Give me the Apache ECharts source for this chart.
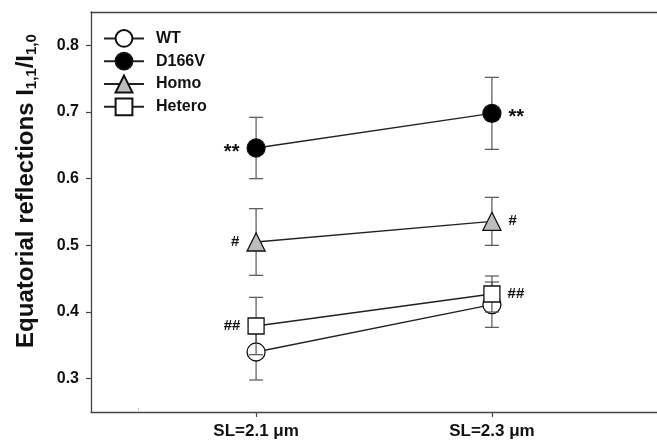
<!DOCTYPE html>
<html><head><meta charset="utf-8">
<script src="https://cdn.jsdelivr.net/npm/echarts@6/dist/echarts.min.js"></script>
<style>html,body{margin:0;padding:0;background:#fff}#c{width:657px;height:443px}</style>
</head><body><div id="c"></div>
<script>
const categories = ['SL=2.1 \u03bcm', 'SL=2.3 \u03bcm'];
const xPositions = [1, 2];
const minorXTicks = [0.5];
const seriesNames = ['WT', 'D166V', 'Homo', 'Hetero'];
const wtValues = [0.340, 0.411];
const wtErrors = [0.042, 0.034];
const d166vValues = [0.646, 0.698];
const d166vErrors = [0.046, 0.054];
const homoValues = [0.505, 0.536];
const homoErrors = [0.050, 0.036];
const heteroValues = [0.379, 0.427];
const heteroErrors = [0.043, 0.027];
const wtMarks = ['', ''];
const d166vMarks = ['**', '**'];
const homoMarks = ['#', '#'];
const heteroMarks = ['##', '##'];
const yTicks = [0.3, 0.4, 0.5, 0.6, 0.7, 0.8];

const FONT = "'Liberation Sans', Arial, Helvetica, sans-serif";
const AX = '#444';

function lineSeries(name, values, marks, symbol, size, fill, z) {
  return {
    name: name, type: 'line', z: z, symbol: symbol, symbolSize: size,
    lineStyle: { color: '#222', width: 1.4 },
    itemStyle: { color: fill, borderColor: '#111', borderWidth: 1.3 },
    emphasis: { disabled: true },
    animation: false,
    data: values.map(function (v, i) {
      const m = marks[i];
      const star = m.indexOf('*') >= 0;
      return {
        value: [xPositions[i], v],
        label: {
          show: !!m,
          position: i === 0 ? 'left' : 'right',
          distance: 7,
          offset: star ? [0, 4] : [0, 0],
          formatter: star ? '{s|' + m + '}' : '{h|' + m + '}',
          rich: {
            s: { fontSize: 20, fontWeight: 'bold', color: '#111', fontFamily: FONT },
            h: { fontSize: 15, fontWeight: 'bold', color: '#111', fontFamily: FONT }
          }
        }
      };
    })
  };
}

function errSeries(values, errs, z) {
  return {
    type: 'custom', z: z, silent: true, animation: false,
    data: values.map(function (v, i) { return [xPositions[i], v - errs[i], v + errs[i]]; }),
    encode: { x: 0, y: [1, 2] },
    renderItem: function (params, api) {
      const x = api.value(0);
      const lo = api.coord([x, api.value(1)]);
      const hi = api.coord([x, api.value(2)]);
      const w = 7;
      const style = { stroke: '#555', lineWidth: 1.2, fill: null };
      return {
        type: 'group', children: [
          { type: 'line', shape: { x1: lo[0], y1: lo[1], x2: hi[0], y2: hi[1] }, style: style },
          { type: 'line', shape: { x1: lo[0] - w, y1: lo[1], x2: lo[0] + w, y2: lo[1] }, style: style },
          { type: 'line', shape: { x1: hi[0] - w, y1: hi[1], x2: hi[0] + w, y2: hi[1] }, style: style }
        ]
      };
    }
  };
}

const chart = echarts.init(document.getElementById('c'), null, { renderer: 'canvas' });
chart.setOption({
  backgroundColor: '#fff',
  animation: false,
  grid: { left: 91, top: 12, bottom: 31, right: -58 },
  xAxis: [{
    type: 'value', min: 0.3, max: 2.7, position: 'bottom',
    axisLine: { show: true, lineStyle: { color: AX, width: 1.3 } },
    axisTick: { show: true, customValues: xPositions, length: 5, lineStyle: { color: AX, width: 1.2 } },
    axisLabel: {
      customValues: xPositions, margin: 11,
      formatter: function (v) { const k = xPositions.indexOf(v); return k >= 0 ? categories[k] : ''; },
      color: '#111', fontSize: 17, fontWeight: 'bold', fontFamily: FONT
    },
    splitLine: { show: false }
  }, {
    type: 'value', min: 0.3, max: 2.7, position: 'top',
    axisLine: { show: true, lineStyle: { color: AX, width: 1.3 } },
    axisTick: { show: false }, axisLabel: { show: false }, splitLine: { show: false }
  }, {
    type: 'value', min: 0.3, max: 2.7, position: 'bottom',
    axisLine: { show: false },
    axisTick: { show: true, inside: true, customValues: minorXTicks, length: 4, lineStyle: { color: '#ccc', width: 1 } },
    axisLabel: { show: false }, splitLine: { show: false }
  }],
  yAxis: {
    type: 'value', min: 0.25, max: 0.85,
    axisLine: { show: true, lineStyle: { color: AX, width: 1.3 } },
    axisTick: { show: true, customValues: yTicks, length: 5, lineStyle: { color: AX, width: 1.2 } },
    axisLabel: {
      customValues: yTicks, margin: 12,
      formatter: function (v) { return v.toFixed(1); },
      color: '#111', fontSize: 16, fontWeight: 'bold', fontFamily: FONT
    },
    splitLine: { show: false }
  },
  legend: {
    data: seriesNames, orient: 'vertical', left: 98, top: 24,
    itemWidth: 40, itemHeight: 21, itemGap: 4,
    selectedMode: false,
    textStyle: { color: '#111', fontSize: 16, fontWeight: 'bold', fontFamily: FONT, padding: [0, 0, 0, 7] }
  },
  graphic: [{
    type: 'text', x: 26, y: 191, rotation: Math.PI / 2,
    style: {
      text: '{m|Equatorial reflections I}{s|1,1}{m|/I}{s|1,0}',
      align: 'center', verticalAlign: 'middle',
      rich: {
        m: { fontSize: 24, fontWeight: 'bold', fontFamily: FONT, fill: '#111' },
        s: { fontSize: 15, fontWeight: 'bold', fontFamily: FONT, fill: '#111', padding: [11, 0, 0, 0] }
      }
    }
  }],
  series: [
    errSeries(wtValues, wtErrors, 2),
    lineSeries('WT', wtValues, wtMarks, 'circle', 18, '#fff', 3),
    errSeries(d166vValues, d166vErrors, 4),
    lineSeries('D166V', d166vValues, d166vMarks, 'circle', 18, '#000', 5),
    errSeries(homoValues, homoErrors, 6),
    lineSeries('Homo', homoValues, homoMarks, 'triangle', 18, '#bdbdbd', 7),
    errSeries(heteroValues, heteroErrors, 8),
    lineSeries('Hetero', heteroValues, heteroMarks, 'rect', 16, '#fff', 9)
  ]
});
</script></body></html>
